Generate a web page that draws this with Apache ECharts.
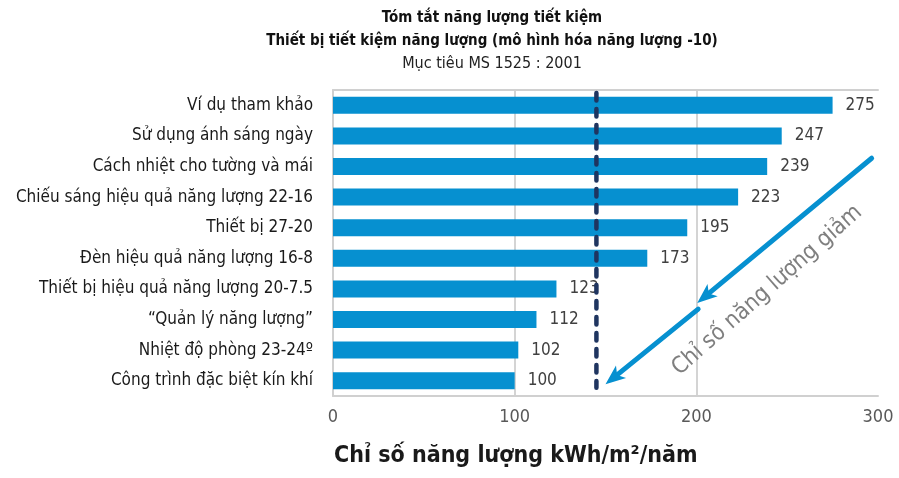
<!DOCTYPE html>
<html>
<head>
<meta charset="utf-8">
<script src="https://cdn.jsdelivr.net/npm/echarts@6/dist/echarts.min.js"></script>
<style>
  html, body { margin: 0; padding: 0; background: #ffffff; }
  #chart { width: 899px; height: 478px; }
</style>
</head>
<body>
<div id="chart"></div>
<script>
// Energy-saving measures and their energy index (kWh/m²/year)
const categories = [
  'Ví dụ tham khảo',
  'Sử dụng ánh sáng ngày',
  'Cách nhiệt cho tường và mái',
  'Chiếu sáng hiệu quả năng lượng 22-16',
  'Thiết bị 27-20',
  'Đèn hiệu quả năng lượng 16-8',
  'Thiết bị hiệu quả năng lượng 20-7.5',
  '“Quản lý năng lượng”',
  'Nhiệt độ phòng 23-24º',
  'Công trình đặc biệt kín khí'
];
const energyIndex = [275, 247, 239, 223, 195, 173, 123, 112, 102, 100];
const targetValue = 145;          // MS 1525 : 2001 target
const axisTicks = [0, 100, 200, 300];

// Annotation arrows, in [value, category position] units
const arrowSegments = [
  [[296.5, 1.73], [200.5, 6.46]],
  [[201, 6.66], [150, 9.12]]
];
const arrowText = 'Chỉ số năng lượng giảm';
const arrowTextAt = [239, 6.05];

const FONT = '"Liberation Sans Narrow", "Arial Narrow", "DejaVu Sans Condensed", sans-serif';
const BLUE = '#0690d0';

const chart = echarts.init(document.getElementById('chart'), null, { renderer: 'canvas' });

const option = {
  animation: false,
  textStyle: { fontFamily: FONT },
  title: [
    {
      text: 'Tóm tắt năng lượng tiết kiệm\nThiết bị tiết kiệm năng lượng (mô hình hóa năng lượng -10)',
      subtext: 'Mục tiêu MS 1525 : 2001',
      left: 487, top: 2, textAlign: 'center',
      itemGap: 1,
      textStyle: { fontFamily: FONT, fontSize: 15, fontWeight: 'bold', color: '#111', lineHeight: 23 },
      subtextStyle: { fontFamily: FONT, fontSize: 16, color: '#222', lineHeight: 20 }
    },
    {
      text: 'Chỉ số năng lượng kWh/m²/năm',
      left: 329, top: 440,
      textStyle: { fontFamily: FONT, fontSize: 23, fontWeight: 'bold', color: '#1a1a1a' }
    }
  ],
  grid: { left: 333, right: 21, top: 90, bottom: 82, containLabel: false },
  xAxis: [
    {
      type: 'value', min: axisTicks[0], max: axisTicks[axisTicks.length - 1], interval: 100,
      axisLine: { show: true, lineStyle: { color: '#d0d0d0', width: 2 } },
      axisTick: { show: false },
      axisLabel: { color: '#595959', fontSize: 18, margin: 12, fontFamily: FONT },
      splitLine: { show: true, showMinLine: false, showMaxLine: false, lineStyle: { color: '#d4d4d4', width: 2 } }
    },
    {
      type: 'value', position: 'top', min: 0, max: 300,
      axisLine: { show: true, onZero: false, lineStyle: { color: '#d0d0d0', width: 2 } },
      axisTick: { show: false }, axisLabel: { show: false }, splitLine: { show: false }
    }
  ],
  yAxis: {
    type: 'category', inverse: true, data: categories,
    axisLine: { show: true, lineStyle: { color: '#d0d0d0', width: 2 } },
    axisTick: { show: false },
    axisLabel: { color: '#1a1a1a', fontSize: 17, margin: 20, fontFamily: FONT }
  },
  series: [
    {
      type: 'bar', data: energyIndex, barWidth: 17,
      itemStyle: { color: BLUE },
      label: { show: true, position: 'right', distance: 13, color: '#404040', fontSize: 17, fontFamily: FONT },
      z: 2
    }
  ]
};
chart.setOption(option);

// Overlays: target line and "decreasing energy" arrows
function catY(pos) {
  const y0 = chart.convertToPixel({ yAxisIndex: 0 }, 0);
  const y9 = chart.convertToPixel({ yAxisIndex: 0 }, categories.length - 1);
  return y0 + pos * (y9 - y0) / (categories.length - 1);
}
function toPx(p) {
  return [chart.convertToPixel({ xAxisIndex: 0 }, p[0]), catY(p[1])];
}

const graphics = [];
const tx = chart.convertToPixel({ xAxisIndex: 0 }, targetValue);
graphics.push({
  type: 'line', z: 100,
  shape: { x1: tx, y1: 93, x2: tx, y2: catY(9) + 7 },
  style: { stroke: '#1f3560', lineWidth: 4.5, lineDash: [7.5, 8.5], lineCap: 'round' }
});

arrowSegments.forEach(function (seg) {
  const a = toPx(seg[0]);
  const b = toPx(seg[1]);
  const dx = b[0] - a[0], dy = b[1] - a[1];
  const len = Math.sqrt(dx * dx + dy * dy);
  const ux = dx / len, uy = dy / len;
  const px = -uy, py = ux;
  const headLen = 20, headW = 8, notch = 5;
  const base = [b[0] - ux * headLen, b[1] - uy * headLen];
  graphics.push({
    type: 'line', z: 90,
    shape: { x1: a[0], y1: a[1], x2: base[0] + ux * notch, y2: base[1] + uy * notch },
    style: { stroke: BLUE, lineWidth: 5, lineCap: 'round' }
  });
  graphics.push({
    type: 'polygon', z: 90,
    shape: {
      points: [
        b,
        [base[0] + px * headW, base[1] + py * headW],
        [base[0] + ux * notch, base[1] + uy * notch],
        [base[0] - px * headW, base[1] - py * headW]
      ]
    },
    style: { fill: BLUE }
  });
});

const tp = toPx(arrowTextAt);
graphics.push({
  type: 'text', z: 90,
  x: tp[0], y: tp[1],
  rotation: Math.atan2(173, 196),
  style: {
    text: arrowText, fontFamily: FONT, fontSize: 23, fill: '#7f7f7f',
    align: 'center', verticalAlign: 'middle'
  }
});

chart.setOption({ graphic: graphics });
</script>
</body>
</html>
